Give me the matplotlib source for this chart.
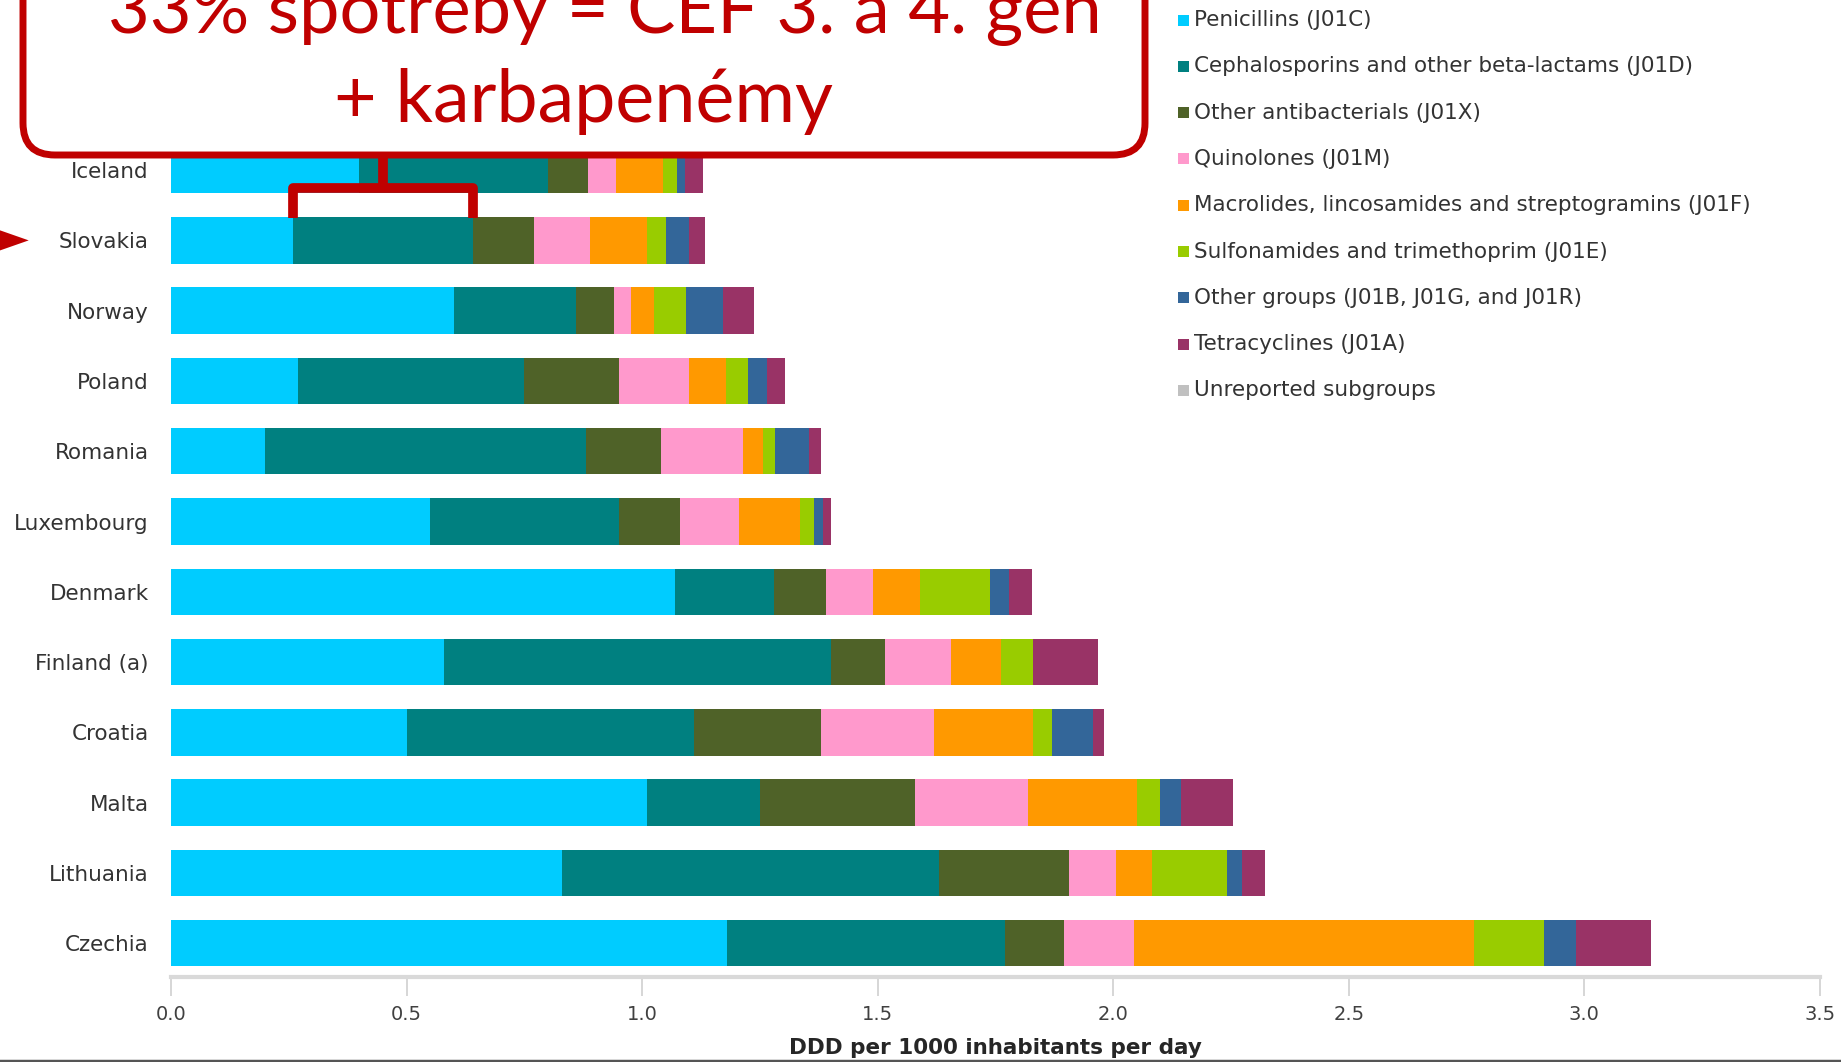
import matplotlib
matplotlib.use('Agg')
import matplotlib.pyplot as plt
from matplotlib.patches import FancyBboxPatch, Rectangle, Polygon
from matplotlib.lines import Line2D
from matplotlib import rcParams

rcParams['font.family'] = ['DejaVu Sans']

# ===================================================================
# DATEN (DDD per 1000 inhabitants per day), von oben nach unten
# ===================================================================
countries = ['Iceland', 'Slovakia', 'Norway', 'Poland', 'Romania', 'Luxembourg',
             'Denmark', 'Finland (a)', 'Croatia', 'Malta', 'Lithuania', 'Czechia']

penicillins    = [0.40, 0.26, 0.60, 0.27, 0.20, 0.55, 1.07, 0.58, 0.50, 1.01, 0.83, 1.18]
cephalosporins = [0.40, 0.38, 0.26, 0.48, 0.68, 0.40, 0.21, 0.82, 0.61, 0.24, 0.80, 0.59]
other_antibact = [0.085, 0.13, 0.08, 0.20, 0.16, 0.13, 0.11, 0.115, 0.27, 0.33, 0.275, 0.125]
quinolones     = [0.06, 0.12, 0.036, 0.15, 0.175, 0.125, 0.10, 0.14, 0.24, 0.24, 0.10, 0.15]
macrolides     = [0.10, 0.12, 0.05, 0.077, 0.042, 0.13, 0.10, 0.107, 0.21, 0.23, 0.077, 0.72]
sulfonamides   = [0.028, 0.04, 0.068, 0.048, 0.026, 0.03, 0.149, 0.068, 0.039, 0.049, 0.16, 0.149]
other_groups   = [0.017, 0.05, 0.077, 0.041, 0.072, 0.019, 0.039, 0.0, 0.088, 0.045, 0.032, 0.068]
tetracyclines  = [0.04, 0.034, 0.066, 0.038, 0.024, 0.016, 0.049, 0.138, 0.024, 0.11, 0.048, 0.159]

series = [penicillins, cephalosporins, other_antibact, quinolones, macrolides,
          sulfonamides, other_groups, tetracyclines]
series_labels = ['Penicillins (J01C)',
                 'Cephalosporins and other beta-lactams (J01D)',
                 'Other antibacterials (J01X)',
                 'Quinolones (J01M)',
                 'Macrolides, lincosamides and streptogramins (J01F)',
                 'Sulfonamides and trimethoprim (J01E)',
                 'Other groups (J01B, J01G, and J01R)',
                 'Tetracyclines (J01A)']
series_colors = ['#00CCFF', '#008080', '#4F6228', '#FF99CC', '#FF9900',
                 '#99CC00', '#336699', '#993366']
unreported_label = 'Unreported subgroups'
unreported_color = '#C0C0C0'

x_ticks = [0.0, 0.5, 1.0, 1.5, 2.0, 2.5, 3.0, 3.5]
x_label = 'DDD per 1000 inhabitants per day'
callout_line1 = '33% spotreby = CEF 3. a 4. gen'
callout_line2 = '+ karbapenémy'
highlight = 'Slovakia'

# ===================================================================
# DARSTELLUNG
# ===================================================================
W, H = 1841, 1062
RED = '#C00000'
TEXT_COLOR = '#333333'
BAR_H = 0.66

fig = plt.figure(figsize=(W / 100, H / 100), dpi=100)
ax = fig.add_axes([171 / W, 85 / H, (1820 - 171) / W, 977 / H])

n = len(countries)
ypos = [n - 1 - i for i in range(n)]

left = [0.0] * n
for vals, col in zip(series, series_colors):
    ax.barh(ypos, vals, left=left, height=BAR_H, color=col, edgecolor='none', zorder=3)
    left = [l + v for l, v in zip(left, vals)]

ax.set_xlim(0, 3.5)
ax.set_ylim(-0.48, 13.42)
ax.set_xticks(x_ticks)
ax.set_xticklabels([f'{t:.1f}' for t in x_ticks], fontsize=14, color='#404040')
ax.set_yticks(ypos)
ax.set_yticklabels(countries, fontsize=15.5, color=TEXT_COLOR)
ax.tick_params(axis='y', length=0, pad=16)
ax.tick_params(axis='x', length=14, width=1.2, color='#D0D0D0', pad=6)
for s in ['top', 'right', 'left']:
    ax.spines[s].set_visible(False)
ax.spines['bottom'].set_color('#D9D9D9')
ax.spines['bottom'].set_linewidth(3)

ax.set_xlabel(x_label, fontsize=15.5, fontweight='bold', color='#262626')
ax.xaxis.set_label_coords(0.5, -0.073)
ax.xaxis.label.set_va('center')

# --- Klammer über Cephalosporinen der Slowakei ---
k = countries.index(highlight)
yk = ypos[k]
x0 = penicillins[k]
x1 = penicillins[k] + cephalosporins[k]
xm = (x0 + x1) / 2
ax.plot([x0, x0, x1, x1], [yk + 0.32, yk + 0.74, yk + 0.74, yk + 0.32],
        color=RED, lw=7, solid_joinstyle='round', solid_capstyle='butt', zorder=6,
        clip_on=False)
ax.plot([xm, xm], [yk + 0.74, yk + 1.25], color=RED, lw=7, solid_capstyle='butt',
        zorder=6, clip_on=False)

# --- Pfeil links ---
tri = Polygon([(-0.40, yk + 0.23), (-0.40, yk - 0.23), (-0.302, yk)], closed=True,
              facecolor=RED, edgecolor='none', clip_on=False, zorder=6)
ax.add_patch(tri)

# --- Kasten oben ---
box = FancyBboxPatch((0.23, (H - 155) / 100), 11.22, 2.6,
                     boxstyle='round,pad=0,rounding_size=0.32',
                     transform=fig.dpi_scale_trans, facecolor='white',
                     edgecolor=RED, linewidth=5, zorder=10)
fig.add_artist(box)
fig.text(605 / W, 1 - 33 / H, callout_line1, ha='center', va='baseline',
         fontsize=52, color=RED, family='Lato', zorder=11)
fig.text(584 / W, 1 - 122 / H, callout_line2, ha='center', va='baseline',
         fontsize=53, color=RED, family='Lato', zorder=11)

# --- Legende ---
leg_labels = series_labels + [unreported_label]
leg_colors = series_colors + [unreported_color]
for i, (lab, col) in enumerate(zip(leg_labels, leg_colors)):
    yc = 20 + 46.3 * i
    fig.add_artist(Rectangle((1178 / W, 1 - (yc + 5.5) / H), 11 / W, 11 / H,
                             transform=fig.transFigure, facecolor=col,
                             edgecolor='none'))
    fig.text(1194 / W, 1 - yc / H, lab, ha='left', va='center', fontsize=15.5,
             color=TEXT_COLOR)

# Fußzeile
fig.add_artist(Line2D([0, 1], [1.5 / H, 1.5 / H], transform=fig.transFigure,
                      color='#555555', lw=2.5))

fig.savefig('out.png', dpi=100)
